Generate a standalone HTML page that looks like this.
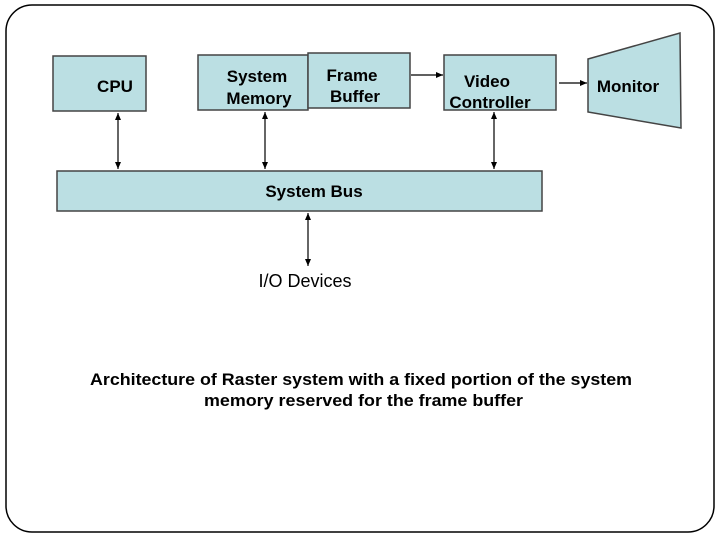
<!DOCTYPE html>
<html><head><style>
html,body{margin:0;padding:0;background:#fff;}
svg{display:block;}
text{font-family:"Liberation Sans",Arial,sans-serif;fill:#000;}
.b{font-weight:bold;font-size:17px;}
</style></head><body>
<svg width="720" height="540" viewBox="0 0 720 540" xmlns="http://www.w3.org/2000/svg">
<defs>
<marker id="a" markerWidth="8" markerHeight="8" refX="7" refY="4" orient="auto-start-reverse" markerUnits="userSpaceOnUse">
<path d="M0,1 L7,4 L0,7 z" fill="#000"/>
</marker>
</defs>
<rect x="6" y="5" width="708" height="527" rx="26" ry="26" fill="#fff" stroke="#000" stroke-width="1.5"/>
<g fill="#bbdfe3" stroke="#444" stroke-width="1.5">
<rect x="53" y="56" width="93" height="55"/>
<rect x="198" y="55" width="110" height="55"/>
<rect x="308" y="53" width="102" height="55"/>
<rect x="444" y="55" width="112" height="55"/>
<polygon points="588,59 680,33 681,128 588,112"/>
<rect x="57" y="171" width="485" height="40"/>
</g>
<g stroke="#000" stroke-width="1.2">
<line x1="118" y1="113" x2="118" y2="169" marker-start="url(#a)" marker-end="url(#a)"/>
<line x1="265" y1="112" x2="265" y2="169" marker-start="url(#a)" marker-end="url(#a)"/>
<line x1="494" y1="112" x2="494" y2="169" marker-start="url(#a)" marker-end="url(#a)"/>
<line x1="308" y1="213" x2="308" y2="266" marker-start="url(#a)" marker-end="url(#a)"/>
<line x1="411" y1="75" x2="443" y2="75" marker-end="url(#a)"/>
<line x1="559" y1="83" x2="587" y2="83" marker-end="url(#a)"/>
</g>
<text class="b" x="115" y="92" text-anchor="middle">CPU</text>
<text class="b" x="257" y="82" text-anchor="middle">System</text>
<text class="b" x="259" y="104" text-anchor="middle">Memory</text>
<text class="b" x="352" y="81" text-anchor="middle">Frame</text>
<text class="b" x="355" y="102" text-anchor="middle">Buffer</text>
<text class="b" x="487" y="87" text-anchor="middle">Video</text>
<text class="b" x="490" y="108" text-anchor="middle">Controller</text>
<text class="b" x="628" y="92" text-anchor="middle">Monitor</text>
<text class="b" x="314" y="197" text-anchor="middle">System Bus</text>
<text x="305" y="287" font-size="18" text-anchor="middle">I/O Devices</text>
<text class="b" x="90" y="385" textLength="542" lengthAdjust="spacingAndGlyphs">Architecture of Raster system with a fixed portion of the system</text>
<text class="b" x="204" y="406" textLength="319" lengthAdjust="spacingAndGlyphs">memory reserved for the frame buffer</text>
</svg>
</body></html>
